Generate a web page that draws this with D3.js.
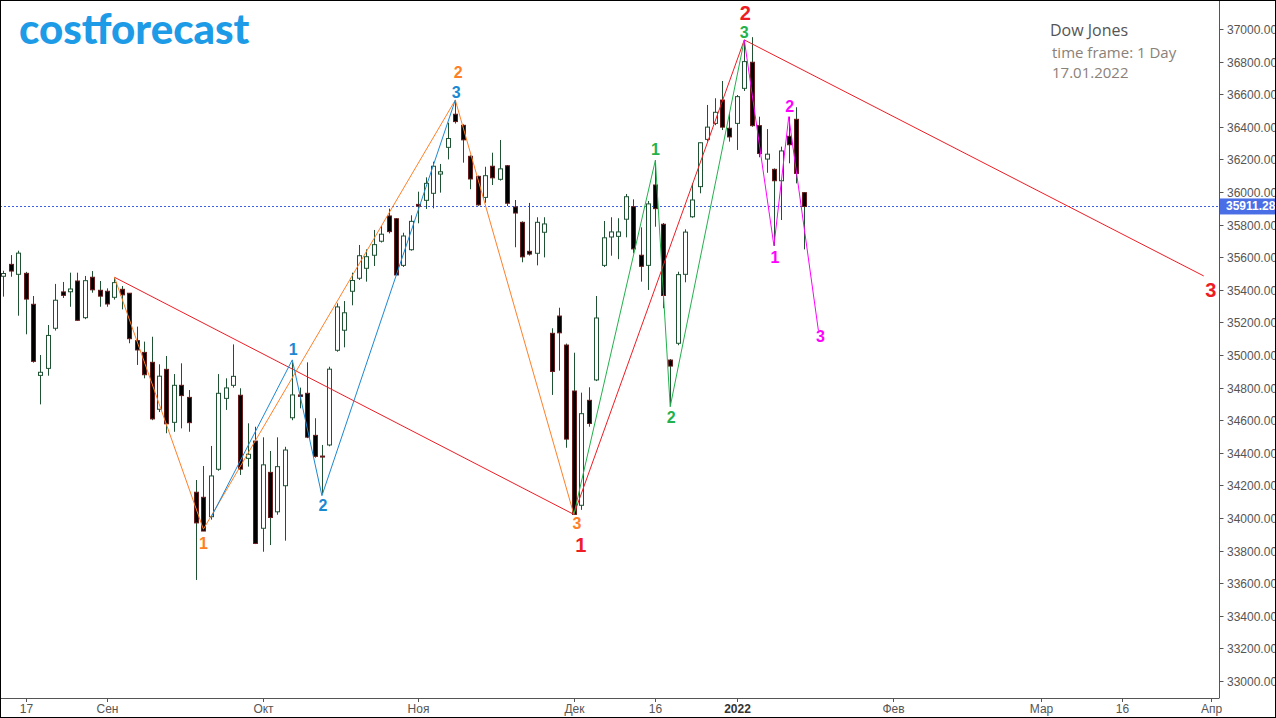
<!DOCTYPE html>
<html><head><meta charset="utf-8">
<script src="https://cdn.jsdelivr.net/npm/d3@7"></script>
<style>body{margin:0;background:#fff;} svg{display:block;}</style>
</head><body><svg id="chart" width="1276" height="718"></svg>
<script>
// ---------------- DATA ----------------
const dates = [
"2021-08-12","2021-08-13","2021-08-16","2021-08-17","2021-08-18","2021-08-19","2021-08-20","2021-08-23","2021-08-24","2021-08-25","2021-08-26","2021-08-27","2021-08-30","2021-08-31",
"2021-09-01","2021-09-02","2021-09-03","2021-09-07","2021-09-08","2021-09-09","2021-09-10","2021-09-13","2021-09-14","2021-09-15","2021-09-16","2021-09-17","2021-09-20","2021-09-21","2021-09-22","2021-09-23","2021-09-24","2021-09-27","2021-09-28","2021-09-29","2021-09-30",
"2021-10-01","2021-10-04","2021-10-05","2021-10-06","2021-10-07","2021-10-08","2021-10-11","2021-10-12","2021-10-13","2021-10-14","2021-10-15","2021-10-18","2021-10-19","2021-10-20","2021-10-21","2021-10-22","2021-10-25","2021-10-26","2021-10-27","2021-10-28","2021-10-29",
"2021-11-01","2021-11-02","2021-11-03","2021-11-04","2021-11-05","2021-11-08","2021-11-09","2021-11-10","2021-11-11","2021-11-12","2021-11-15","2021-11-16","2021-11-17","2021-11-18","2021-11-19","2021-11-22","2021-11-23","2021-11-24","2021-11-26","2021-11-29","2021-11-30",
"2021-12-01","2021-12-02","2021-12-03","2021-12-06","2021-12-07","2021-12-08","2021-12-09","2021-12-10","2021-12-13","2021-12-14","2021-12-15","2021-12-16","2021-12-17","2021-12-20","2021-12-21","2021-12-22","2021-12-23","2021-12-27","2021-12-28","2021-12-29","2021-12-30","2021-12-31",
"2022-01-03","2022-01-04","2022-01-05","2022-01-06","2022-01-07","2022-01-10","2022-01-11","2022-01-12","2022-01-13","2022-01-14"];

const open = [
35483,35556,35495,35501,35311,34875,34918,35164,35387,35388,35454,35229,35477,35397,
35391,35354,35403,35379,35088,35016,34955,34667,34912,34587,34814,34740,34158,34127,34008,34299,34734,34814,34753,34366,34472,
33937,34280,34038,34198,34615,34755,34765,34507,34380,34448,35029,35152,35391,35471,35532,35612,35698,35853,35836,35550,35646,
35924,35949,35992,36110,36274,36477,36409,36219,36096,35967,36158,36078,36161,35908,35814,35636,35624,35753,35133,35239,35061,
34779,34078,34722,34847,35550,35724,35728,35833,35910,35612,35550,36043,35802,34969,35072,35495,35848,36033,36323,36421,36564,36391,
36421,36636,36796,36407,36202,36139,36069,36342,36446,35996];
const high = [
35517,35613,35640,35510,35362,35000,35184,35436,35448,35505,35505,35485,35515,35454,
35409,35474,35423,35379,35174,35082,35112,34943,34994,34883,34949,34785,34233,34319,34442,34883,34857,35065,34796,34581,34560,
34495,34411,34495,34437,34955,34800,34955,34612,34448,34928,35317,35331,35505,35675,35648,35767,35791,35898,35840,35750,35857,
36002,36090,36186,36172,36425,36565,36415,36225,36100,36155,36241,36319,36165,35951,35820,35933,35845,35845,35164,35290,35070,
35014,34769,34802,35362,35822,35845,35839,35988,35955,35783,35945,36195,35810,34975,35511,35771,36053,36305,36534,36575,36681,36486,
36595,36933,36950,36462,36386,36145,36278,36462,36520,36000];
const low = [
35358,35480,35241,35127,34953,34697,34873,35150,35350,35296,35210,35220,35382,35296,
35296,35340,35280,35072,34939,34857,34600,34650,34520,34529,34550,34529,33620,33920,33990,34290,34663,34800,34264,34315,33840,
33793,33834,34020,33861,34600,34673,34490,34370,34152,34440,35020,35047,35305,35460,35450,35546,35690,35746,35490,35540,35640,
35808,35896,35900,35996,36200,36420,36180,36017,35915,35934,36043,36070,35914,35661,35569,35610,35550,35599,34755,34904,34431,
34022,34050,34560,34840,35540,35609,35588,35722,35624,35450,35399,35787,35287,34685,35060,35446,35842,35992,36310,36410,36380,36309,
36258,36620,36400,36213,36118,35670,35828,36176,36053,35648];
const close = [
35500,35515,35625,35343,34961,34894,35120,35336,35366,35405,35213,35456,35400,35361,
35313,35444,35369,35100,35031,34879,34608,34870,34578,34814,34751,34585,33970,33920,34258,34765,34798,34869,34300,34391,33844,
34326,34003,34315,34417,34755,34746,34496,34378,34378,34913,35295,35259,35457,35609,35603,35677,35741,35757,35491,35730,35820,
35914,36053,36158,36124,36328,36432,36320,36080,35921,36100,36087,36142,35931,35871,35602,35619,35814,35804,34899,35136,34484,
34022,34640,34580,35227,35719,35755,35755,35971,35651,35544,35927,35898,35365,34932,35493,35754,35951,36302,36398,36489,36398,36338,
36585,36800,36407,36236,36232,36069,36252,36290,36114,35911];

const lastPrice = 35911.28;

// Wave (zigzag) vertices: [date, value]
const waveRed     = [["2021-09-02",35477],["2021-12-01",34022],["2022-01-04",36933],["2022-03-31",35485]];
const waveOrange  = [["2021-09-02",35477],["2021-09-21",33931],["2021-11-08",36564],["2021-12-01",34022]];
const waveBlue    = [["2021-09-22",34000],["2021-10-07",34970],["2021-10-13",34137],["2021-11-08",36564]];
const waveGreen   = [["2021-12-01",34022],["2021-12-16",36195],["2021-12-20",34683],["2022-01-04",36933]];
const waveMagenta = [["2022-01-04",36933],["2022-01-10",35670],["2022-01-12",36462],["2022-01-18",35150]];
const waveLabelsText = ["1","2","3"];

const yTickValues = [33000,33200,33400,33600,33800,34000,34200,34400,34600,34800,35000,35200,35400,35600,35800,36000,36200,36400,36600,36800,37000];
const xTickDates  = ["2021-08-17","2021-09-01","2021-10-01","2021-11-01","2021-12-01","2021-12-16","2022-01-03","2022-02-01","2022-03-01","2022-03-16","2022-04-01"];
const xTickLabels = ["17","Сен","Окт","Ноя","Дек","16","2022","Фев","Мар","16","Апр"];

const titleLines = ["Dow Jones","time frame: 1 Day","17.01.2022"];
const logoText = "costforecast";

// ---------------- LAYOUT ----------------
const W = 1276, H = 718;
const plotRight = 1219.5, plotBottom = 698;
const barStep = 7.41, firstX = 3.3;

// full calendar: trading days + future weekdays (for the projected part of the axis)
const future = [];
{
  let d = new Date(Date.UTC(2022,0,17));
  while (d <= new Date(Date.UTC(2022,3,15))) {
    const wd = d.getUTCDay();
    if (wd !== 0 && wd !== 6) future.push(d.toISOString().slice(0,10));
    d = new Date(d.getTime() + 86400000);
  }
}
const allDates = dates.concat(future);

const x = d3.scalePoint().domain(allDates).range([firstX, firstX + (allDates.length-1)*barStep]);
const y = d3.scaleLinear().domain([33000, 37000]).range([681, 29]);

const svg = d3.select("#chart");
svg.append("rect").attr("width",W).attr("height",H).attr("fill","#fff");

const plot = svg.append("g");
plot.append("clipPath").attr("id","clip").append("rect").attr("x",0).attr("y",0).attr("width",plotRight).attr("height",plotBottom);
const g = plot.append("g").attr("clip-path","url(#clip)");

// last price dashed line
g.append("line").attr("x1",0).attr("x2",plotRight).attr("y1",Math.round(y(lastPrice))+0.5).attr("y2",Math.round(y(lastPrice))+0.5)
  .attr("stroke","#3b5fe6").attr("stroke-width",1).attr("stroke-dasharray","2,2");

// candles
const candles = dates.map((d,i)=>({d, o:open[i], h:high[i], l:low[i], c:close[i]}));
const cg = g.append("g");
cg.selectAll("line.wick").data(candles).join("line")
  .attr("class","wick")
  .attr("x1",d=>Math.round(x(d.d))+0.5).attr("x2",d=>Math.round(x(d.d))+0.5)
  .attr("y1",d=>y(d.h)).attr("y2",d=>y(d.l))
  .attr("stroke","#1e5232").attr("stroke-width",1);
cg.selectAll("rect.body").data(candles).join("rect")
  .attr("class","body")
  .attr("x",d=>Math.round(x(d.d))-1.5).attr("width",4)
  .attr("y",d=>y(Math.max(d.o,d.c)))
  .attr("height",d=>Math.max(1, Math.abs(y(d.o)-y(d.c))))
  .attr("fill",d=>d.c>=d.o?"#ffffff":"#000000")
  .attr("stroke",d=>d.c>=d.o?"#1e5232":"#6a1c1c").attr("stroke-width",1);

// waves
const waves = [
  {pts:waveRed, color:"#ee1c24", size:20, offs:[[7,31],[1,-27],[7,14]]},
  {pts:waveOrange, color:"#ff7f27", size:16, offs:[[0,14],[3,-28],[3,9]]},
  {pts:waveBlue, color:"#1b88d2", size:16, offs:[[1,-10],[1,10],[1,-8]]},
  {pts:waveGreen, color:"#22b14c", size:16, offs:[[0,-11],[1,11],[0,-7]]},
  {pts:waveMagenta, color:"#ff00ff", size:16, offs:[[1,12],[1,-10],[2,6]]}
];
const line = d3.line().x(p=>x(p[0])).y(p=>y(p[1]));
const wg = svg.append("g");
waves.forEach(w=>{
  wg.append("path").attr("d",line(w.pts)).attr("fill","none").attr("stroke",w.color).attr("stroke-width",1);
});
waves.forEach(w=>{
  w.pts.slice(1).forEach((p,i)=>{
    wg.append("text").attr("x",x(p[0])+w.offs[i][0]).attr("y",y(p[1])+w.offs[i][1])
      .attr("text-anchor","middle").attr("dominant-baseline","central")
      .attr("font-family","'Liberation Sans', Arial, sans-serif").attr("font-weight","700")
      .attr("font-size",w.size).attr("fill",w.color).text(waveLabelsText[i]);
  });
});

// right axis
const ax = svg.append("g").attr("font-family","'Liberation Sans', Arial, sans-serif").attr("font-size",12);
ax.append("line").attr("x1",plotRight).attr("x2",plotRight).attr("y1",0).attr("y2",plotBottom).attr("stroke","#555");
yTickValues.forEach(v=>{
  const yy = Math.round(y(v))+0.5;
  ax.append("line").attr("x1",plotRight).attr("x2",plotRight+4).attr("y1",yy).attr("y2",yy).attr("stroke","#555");
  ax.append("text").attr("x",1227).attr("y",yy).attr("dominant-baseline","central").attr("fill","#555").text(v.toFixed(2));
});
// last price tag
const ly = y(lastPrice);
ax.append("rect").attr("x",plotRight+0.5).attr("y",ly-8).attr("width",W-plotRight).attr("height",16).attr("fill","#4a6ee6");
ax.append("text").attr("x",1226).attr("y",ly).attr("dominant-baseline","central").attr("fill","#fff").attr("font-weight","bold").text(lastPrice.toFixed(2));

// bottom axis
ax.append("line").attr("x1",0).attr("x2",plotRight).attr("y1",plotBottom+0.5).attr("y2",plotBottom+0.5).attr("stroke","#555");
xTickDates.forEach((d,i)=>{
  const xx = Math.round(x(d))+0.5;
  ax.append("line").attr("x1",xx).attr("x2",xx).attr("y1",plotBottom).attr("y2",plotBottom+4).attr("stroke","#555");
  ax.append("text").attr("x",xx).attr("y",709).attr("text-anchor","middle").attr("dominant-baseline","central")
    .attr("fill",xTickLabels[i]==="2022"?"#333":"#555").attr("font-weight",xTickLabels[i]==="2022"?"bold":"normal")
    .text(xTickLabels[i]);
});

// title block
const tg = svg.append("g").attr("font-family","'Open Sans', 'Noto Sans', sans-serif");
tg.append("text").attr("x",1050).attr("y",36).attr("font-size",16).attr("fill","#555").text(titleLines[0]);
tg.append("text").attr("x",1052).attr("y",58).attr("font-size",15).attr("fill","#8a8178").text(titleLines[1]);
tg.append("text").attr("x",1052).attr("y",78).attr("font-size",15).attr("fill","#8a8178").text(titleLines[2]);

// logo
svg.append("text").attr("x",19).attr("y",44).attr("font-family","Lato, 'Open Sans', sans-serif").attr("font-weight",900)
  .attr("font-size",42).attr("fill","#1d9be6").text(logoText);

// frame
svg.append("rect").attr("x",0.5).attr("y",0.5).attr("width",W-1).attr("height",H-1).attr("fill","none").attr("stroke","#000");
</script></body></html>
